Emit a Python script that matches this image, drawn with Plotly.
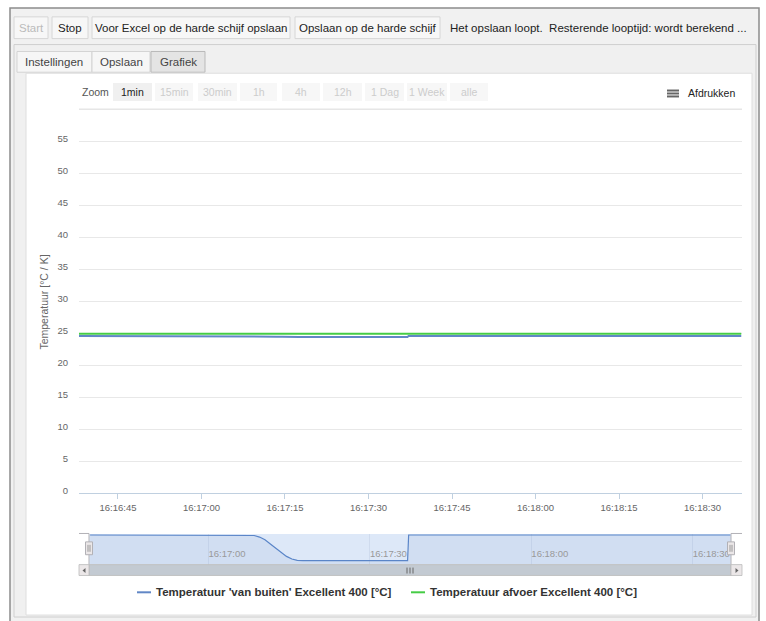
import plotly.graph_objects as go

# ---------------- data ----------------
DAY = "2015-03-10 "
blue_name = "Temperatuur 'van buiten' Excellent 400 [°C]"
green_name = "Temperatuur afvoer Excellent 400 [°C]"

blue_times = ["16:16:38", "16:17:07.5", "16:17:08.5", "16:17:09.5", "16:17:10.5", "16:17:11.5",
              "16:17:12.5", "16:17:13.5", "16:17:14.5", "16:17:15.5", "16:17:16.5", "16:17:17.5",
              "16:17:37", "16:17:37.2", "16:18:37"]
blue_vals = [24.60, 24.600, 24.597, 24.588, 24.572, 24.548,
             24.522, 24.497, 24.475, 24.460, 24.452, 24.450,
             24.450, 24.60, 24.60]

green_times = ["16:16:38", "16:17:30", "16:18:37"]
green_vals = [24.95, 24.95, 24.95]

x_start, x_end = "16:16:38", "16:18:37"
y_ticks = list(range(0, 60, 5))

zoom_buttons = ["1min", "15min", "30min", "1h", "4h", "12h", "1 Dag", "1 Week", "alle"]
top_buttons = ["Start", "Stop", "Voor Excel op de harde schijf opslaan", "Opslaan op de harde schijf"]
tabs = ["Instellingen", "Opslaan", "Grafiek"]
status_text = "Het opslaan loopt.\u00a0 Resterende looptijd: wordt berekend ..."

# ---------------- helpers ----------------
W, H = 766, 621
FONT = "Liberation Sans, Arial, sans-serif"
def X(p): return p / W
def Y(p): return 1 - p / H

shapes, annotations = [], []

def rect(x0, y0, x1, y1, fill, line=None, lw=1, layer="below"):
    shapes.append(dict(type="rect", xref="paper", yref="paper",
                       x0=X(x0), x1=X(x1), y0=Y(y1), y1=Y(y0),
                       fillcolor=fill,
                       line=dict(color=line if line else "rgba(0,0,0,0)", width=lw if line else 0),
                       layer=layer))

def hline(x0, x1, y, color, lw=1, layer="below"):
    shapes.append(dict(type="line", xref="paper", yref="paper",
                       x0=X(x0), x1=X(x1), y0=Y(y), y1=Y(y),
                       line=dict(color=color, width=lw), layer=layer))

def vline(x, y0, y1, color, lw=1, layer="below"):
    shapes.append(dict(type="line", xref="paper", yref="paper",
                       x0=X(x), x1=X(x), y0=Y(y0), y1=Y(y1),
                       line=dict(color=color, width=lw), layer=layer))

def path(d_pts, fill, layer="above"):
    d = "M " + " L ".join(f"{X(a)},{Y(b)}" for a, b in d_pts) + " Z"
    shapes.append(dict(type="path", xref="paper", yref="paper", path=d,
                       fillcolor=fill, line=dict(width=0), layer=layer))

def text(x, y, s, size=12, color="#333", anchor="left", bold=False, angle=0):
    annotations.append(dict(xref="paper", yref="paper", x=X(x), y=Y(y),
                            text=f"<b>{s}</b>" if bold else s, showarrow=False,
                            xanchor=anchor, yanchor="middle", textangle=angle,
                            font=dict(family=FONT, size=size, color=color)))

# ---------------- page chrome ----------------
rect(10, 3, 759, 630, "#f1f1f1", "#8c8c8c", 1.5)
btn_x = [(14, 48), (52, 88), (92, 290), (295, 440)]
for (a, b), lab in zip(btn_x, top_buttons):
    rect(a, 12, b, 34, "#f7f7f7", "#d6d6d6", 1)
    text((a + b) / 2, 23, lab, 11.5, "#bbbbbb" if lab == "Start" else "#222", "center")
text(448, 23, status_text, 11.5, "#222")

rect(14, 40, 756, 619, "#f0f0f0", "#cfcfcf", 1)
tab_x = [(17, 92), (92, 150), (151, 205)]
for (a, b), lab in zip(tab_x, tabs):
    sel = lab == "Grafiek"
    rect(a, 47, b, 68, "#e4e4e4" if sel else "#f6f6f6", "#b9b9b9" if sel else "#d3d3d3", 1)
    text((a + b) / 2, 57.5, lab, 11.5, "#444", "center")

rect(26, 69, 752, 617, "#ffffff", "#dedede", 1)

text(80, 88, "Zoom", 10.5, "#555")
zb = [(113, 152), (155, 193), (198, 237), (240, 277), (282, 320), (323, 362), (365, 404), (407, 447), (450, 488)]
for (a, b), lab in zip(zb, zoom_buttons):
    sel = lab == "1min"
    rect(a, 79, b, 97, "#f0f0f0" if sel else "#f7f7f7")
    text((a + b) / 2, 88, lab, 10.5, "#222" if sel else "#cccccc", "center")
hline(79, 742, 105.5, "#e6e6e6", 1.5)

for yy in (86.5, 89.5, 92.5):
    hline(667, 679, yy, "#666666", 2)
text(686, 89.5, "Afdrukken", 10.5, "#222")

text(44, 301, "Temperatuur [°C / K]", 10.5, "#666", "center", angle=-90)

rect(89, 535, 731, 566, "#dde8f8")

# ---------------- traces ----------------
bt = [DAY + t for t in blue_times]
gt = [DAY + t for t in green_times]

fig = go.Figure()
fig.add_trace(go.Scatter(x=bt, y=blue_vals, mode="lines", name=blue_name,
                         line=dict(color="#6187c6", width=2), xaxis="x", yaxis="y"))
fig.add_trace(go.Scatter(x=gt, y=green_vals, mode="lines", name=green_name,
                         line=dict(color="#45cc45", width=2), xaxis="x", yaxis="y"))
fig.add_trace(go.Scatter(x=bt, y=blue_vals, mode="lines", name=blue_name, showlegend=False,
                         line=dict(color="#5a85c8", width=1.2), fill="tozeroy",
                         fillcolor="rgba(60,100,170,0.07)", xaxis="x2", yaxis="y2"))

OUT = "#b2b1b6"
hline(79, 89, 534.5, OUT, 1, "above")
hline(731, 742, 534.5, OUT, 1, "above")
vline(89, 534.5, 566, OUT, 1, "above")
vline(731, 534.5, 566, OUT, 1, "above")
for hx in (89, 731):
    rect(hx - 3.5, 543, hx + 3.5, 556, "#ebe7e8", OUT, 1, "above")
    vline(hx - 1, 546, 553, "#999999", 1, "above")
    vline(hx + 1, 546, 553, "#999999", 1, "above")
rect(79, 566, 742, 577, "#eeeeee", None, 0, "above")
rect(89, 566, 731, 577, "#c3cad2", "#bbbbbb", 0.8, "above")
rect(79, 566, 89, 577, "#ebe7e8", "#bbbbbb", 0.8, "above")
rect(731, 566, 742, 577, "#ebe7e8", "#bbbbbb", 0.8, "above")
path([(85.5, 569.5), (85.5, 574.5), (82.5, 572)], "#666666")
path([(735.5, 569.5), (735.5, 574.5), (738.5, 572)], "#666666")
for gx in (407, 410, 413):
    vline(gx, 569, 575, "#666666", 1, "above")

hline(137, 151, 594, "#6187c6", 2, "above")
text(154, 594, blue_name, 11.5, "#333", "left", bold=True)
hline(411, 425, 594, "#45cc45", 2, "above")
text(428, 594, green_name, 11.5, "#333", "left", bold=True)

y_top_px = 494 - 55.5 * (494 - 138) / 55
fig.update_layout(
    width=W, height=H, margin=dict(l=0, r=0, t=0, b=0),
    paper_bgcolor="#ffffff", plot_bgcolor="rgba(0,0,0,0)",
    showlegend=False, shapes=shapes, annotations=annotations,
    font=dict(family=FONT),
    xaxis=dict(domain=[X(79), X(741.5)], range=[DAY + x_start, DAY + x_end], type="date",
               tickformat="%H:%M:%S", dtick=15000, tick0=DAY + "16:16:45",
               ticks="outside", ticklen=5, tickcolor="#C0D0E0",
               showline=True, linecolor="#C0D0E0", linewidth=1, showgrid=False, zeroline=False,
               tickfont=dict(size=9.5, color="#666666"), anchor="y"),
    yaxis=dict(domain=[Y(494), Y(y_top_px)], range=[0, 55.5], tickvals=y_ticks,
               showgrid=True, gridcolor="#e8e8e8", gridwidth=1, zeroline=False, showline=False,
               ticks="", tickfont=dict(size=9.5, color="#666666"), ticklabelstandoff=10,
               ticklabelshift=-3, anchor="x"),
    xaxis2=dict(domain=[X(89), X(731)], range=[DAY + "16:16:37.8", DAY + "16:18:37.1"], type="date",
                tickformat="%H:%M:%S", dtick=30000, tick0=DAY + "16:17:00",
                ticks="", ticklabelposition="inside right", showgrid=True, gridcolor="#cfdbee",
                showline=False, zeroline=False, tickfont=dict(size=9.5, color="#999999"),
                anchor="y2"),
    yaxis2=dict(domain=[Y(566), Y(535)], range=[24.427, 24.606], visible=False,
                showgrid=False, zeroline=False, anchor="x2"),
)

post = """
var h = document.documentElement, b = document.body;
h.style.margin = '0'; h.style.padding = '0';
b.style.margin = '0'; b.style.padding = '0';
b.style.fontSize = '0'; b.style.lineHeight = '0';
"""

fig.write_html("out.html", config={"displayModeBar": False}, post_script=post)
